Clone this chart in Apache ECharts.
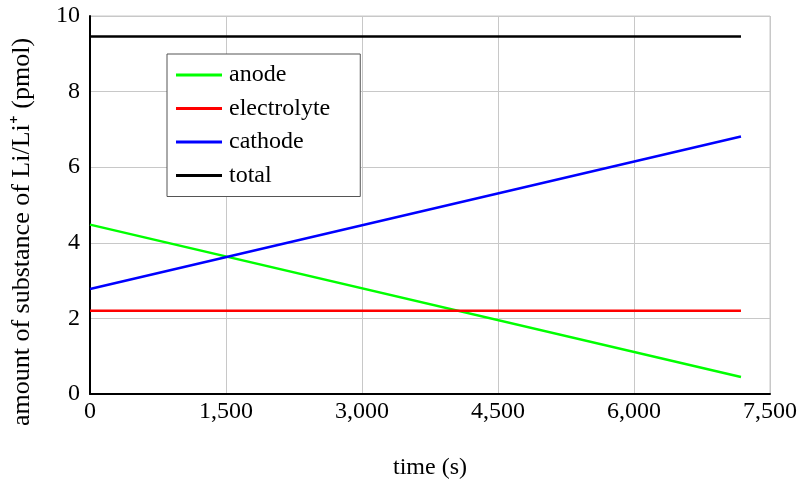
<!DOCTYPE html>
<html><head><meta charset="utf-8">
<script src="https://cdn.jsdelivr.net/npm/echarts@6/dist/echarts.min.js"></script>
<style>html,body{margin:0;padding:0;background:#fff}#c{width:801px;height:486px}</style>
</head><body><div id="c"></div>
<script>
const timeS = [0, 7180];
const anode = [4.48, 0.45];
const electrolyte = [2.2, 2.2];
const cathode = [2.78, 6.81];
const total = [9.46, 9.46];
const xTicks = [0, 1500, 3000, 4500, 6000, 7500];
const yTicks = [0, 2, 4, 6, 8, 10];
const names = ['anode', 'electrolyte', 'cathode', 'total'];
const colors = ['#00ff00', '#ff0000', '#0000ff', '#000000'];
const values = [anode, electrolyte, cathode, total];

const font = 'Liberation Serif';
const fs = 24;
const chart = echarts.init(document.getElementById('c'), null, {renderer: 'canvas'});
chart.setOption({
  animation: false,
  backgroundColor: '#fff',
  textStyle: {fontFamily: font, color: '#000'},
  grid: {left: 90, right: 31, top: 16, bottom: 92, show: true, borderColor: '#c8c8c8', borderWidth: 1},
  legend: {
    orient: 'vertical', left: 167, top: 54, data: names,
    icon: 'rect', itemWidth: 46, itemHeight: 3, itemGap: 9.5,
    padding: [9, 30, 9, 9], borderColor: '#555', borderWidth: 1, backgroundColor: '#fff',
    textStyle: {fontFamily: font, fontSize: fs, color: '#000', lineHeight: 24, padding: [0, 0, 0, 2]}
  },
  xAxis: {
    type: 'value', min: xTicks[0], max: xTicks[xTicks.length - 1], interval: 1500,
    name: 'time (s)', nameLocation: 'middle', nameGap: 62,
    nameTextStyle: {fontFamily: font, fontSize: fs, color: '#000'},
    axisLine: {show: true, lineStyle: {color: '#000', width: 2}},
    axisTick: {show: false},
    axisLabel: {fontFamily: font, fontSize: fs, color: '#000', margin: 6,
      formatter: v => v.toLocaleString('en-US')},
    splitLine: {show: true, lineStyle: {color: '#c8c8c8', width: 1}}
  },
  yAxis: {
    type: 'value', min: yTicks[0], max: yTicks[yTicks.length - 1], interval: 2,
    name: 'amount of substance of Li/Li\u207A (pmol)', nameLocation: 'middle', nameGap: 55,
    nameTextStyle: {fontFamily: font, fontSize: 26, color: '#000', padding: [0, 54, 0, 0]},
    axisLine: {show: true, lineStyle: {color: '#000', width: 2}},
    axisTick: {show: false},
    axisLabel: {fontFamily: font, fontSize: fs, color: '#000', margin: 10},
    splitLine: {show: true, lineStyle: {color: '#c8c8c8', width: 1}}
  },
  series: names.map((n, i) => ({
    name: n, type: 'line', showSymbol: false, symbol: 'none',
    data: timeS.map((t, j) => [t, values[i][j]]),
    lineStyle: {color: colors[i], width: 2.5},
    itemStyle: {color: colors[i]}
  }))
});
</script></body></html>
